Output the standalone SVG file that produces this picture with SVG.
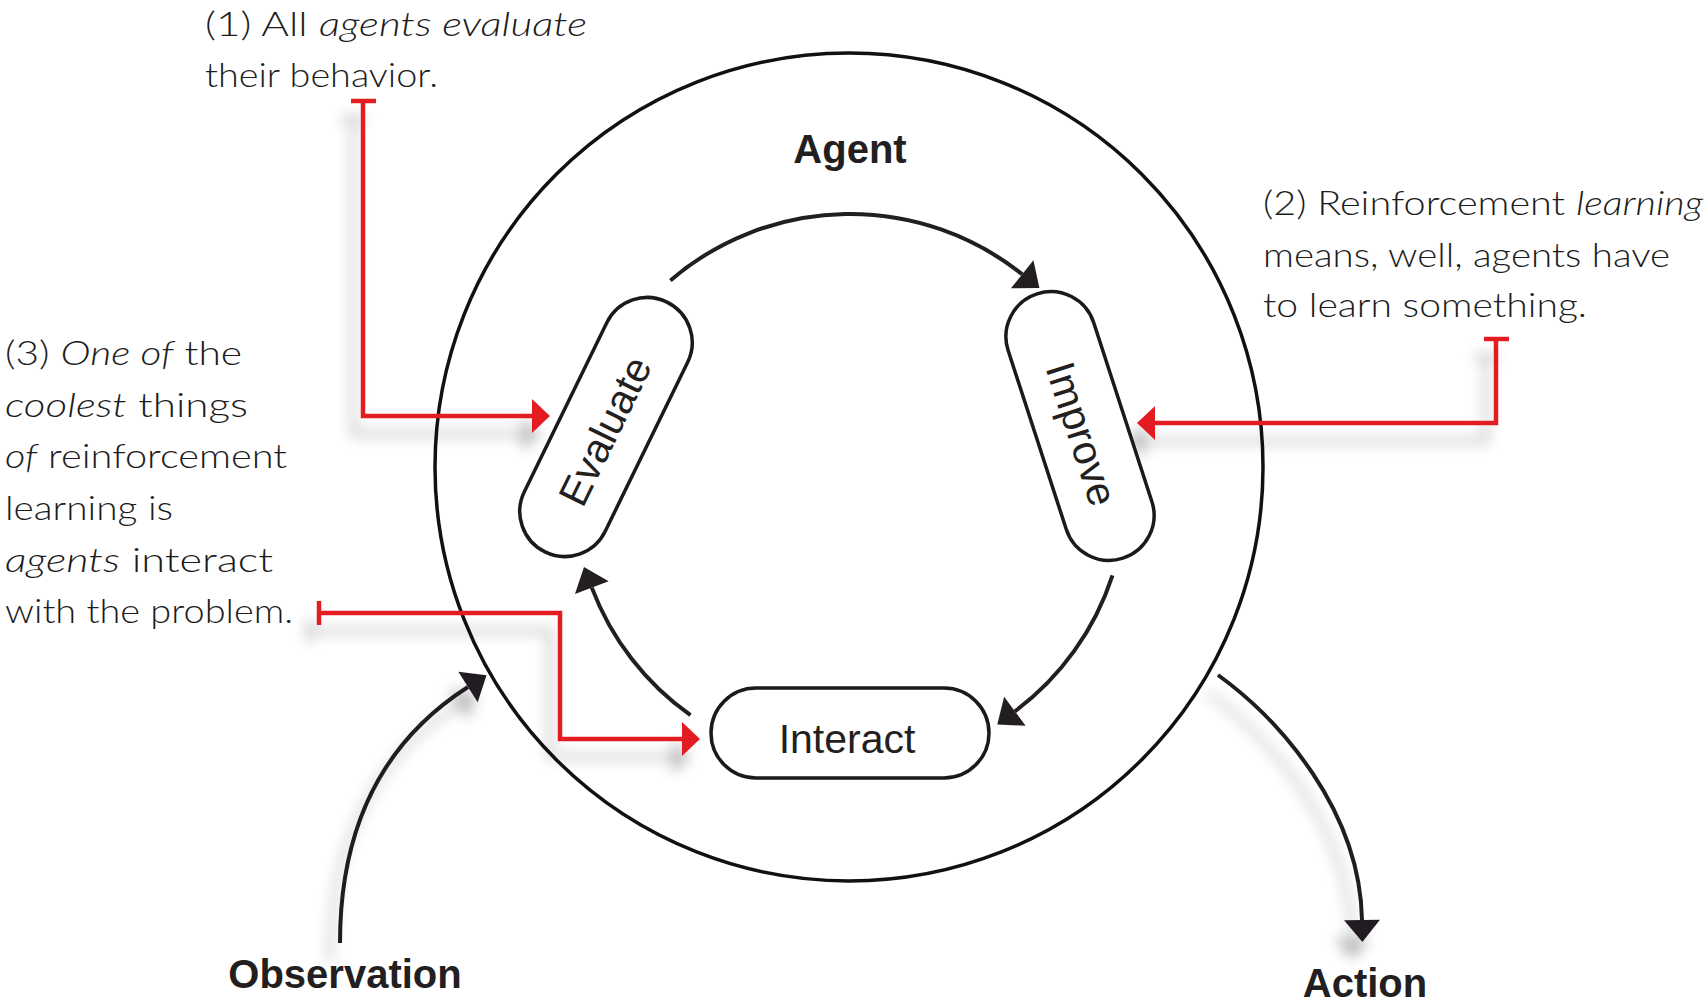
<svg xmlns="http://www.w3.org/2000/svg" width="1708" height="1004" viewBox="0 0 1708 1004">
  <style>
    .note { font-family: Lato, "Open Sans", "Liberation Sans", sans-serif; font-weight: 300; font-size: 34px; fill: #1c1c1c; }
    .note .em { font-style: italic; }
    .pill { fill: #ffffff; stroke: #1a1a1a; stroke-width: 3.5; }
    .pill-label { font-family: "Liberation Sans", Arial, sans-serif; font-size: 41px; fill: #231f20; text-anchor: middle; }
    .title { font-family: "Liberation Sans", Arial, sans-serif; font-weight: bold; font-size: 40px; fill: #231f20; text-anchor: middle; }
    .ring { fill: none; stroke: #111111; stroke-width: 3.5; }
    .flow { fill: none; stroke: #231f20; stroke-width: 4; }
    .callout { fill: none; stroke: #e31e24; stroke-width: 4.5; }
  </style>
  <defs>
    <filter id="soft-shadow" filterUnits="userSpaceOnUse" x="0" y="0" width="1708" height="1004">
      <feGaussianBlur in="SourceAlpha" stdDeviation="7"/>
      <feOffset dx="-10" dy="18" result="blur"/>
      <feComponentTransfer><feFuncA type="linear" slope="0.28"/></feComponentTransfer>
      <feMerge><feMergeNode/><feMergeNode in="SourceGraphic"/></feMerge>
    </filter>
    <marker id="head-black" markerUnits="userSpaceOnUse" markerWidth="24" markerHeight="38" refX="0" refY="18" orient="auto" overflow="visible">
      <path d="M0,0 L22,18 L0,36 Z" fill="#231f20"/>
    </marker>
    <marker id="head-red" markerUnits="userSpaceOnUse" markerWidth="20" markerHeight="36" refX="0" refY="17" orient="auto" overflow="visible">
      <path d="M0,0 L18,17 L0,34 Z" fill="#e31e24"/>
    </marker>
  </defs>

  <rect x="0" y="0" width="1708" height="1004" fill="#ffffff"/>

  <!-- agent boundary -->
  <g id="agent">
    <circle class="ring" cx="849" cy="467" r="414"/>
    <text class="title" x="850" y="163">Agent</text>
  </g>

  <!-- connectors -->
  <g id="connectors">
    <!-- internal cycle -->
    <path class="flow" d="M670.4,280.4 A276,276 0 0 1 1022.2,274.3" marker-end="url(#head-black)"/>
    <path class="flow" d="M1112.5,575.3 A276,276 0 0 1 1014.9,711.3" marker-end="url(#head-black)"/>
    <path class="flow" d="M690.5,715.2 A276,276 0 0 1 591.8,587.6" marker-end="url(#head-black)"/>
    <!-- environment in / out -->
    <g filter="url(#soft-shadow)">
      <path class="flow" d="M340,943 C340,825 385,740 468,687" marker-end="url(#head-black)"/>
      <path class="flow" d="M1218,675 C1280,720 1360,810 1362,920" marker-end="url(#head-black)"/>
    </g>
    <!-- annotation callouts -->
    <g filter="url(#soft-shadow)">
      <path class="callout" d="M351,101 H376 M363,101 V416 H532" marker-end="url(#head-red)"/>
      <path class="callout" d="M1484,339 H1509 M1496,339 V423 H1155" marker-end="url(#head-red)"/>
      <path class="callout" d="M319,601 V625 M319,613 H560 V739 H682" marker-end="url(#head-red)"/>
    </g>
  </g>

  <g id="evaluate" transform="translate(606,427) rotate(-64)">
    <rect class="pill" x="-139" y="-45" width="278" height="90" rx="45"/>
    <text class="pill-label" x="-4" y="15">Evaluate</text>
  </g>

  <g id="improve" transform="translate(1080,426) rotate(72)">
    <rect class="pill" x="-139" y="-45" width="278" height="90" rx="45"/>
    <text class="pill-label" x="8" y="15">Improve</text>
  </g>

  <g id="interact" transform="translate(850,733)">
    <rect class="pill" x="-139" y="-45" width="278" height="90" rx="45"/>
    <text class="pill-label" x="-3" y="20">Interact</text>
  </g>

  <g id="observation">
    <text class="title" x="345" y="988">Observation</text>
  </g>

  <g id="action">
    <text class="title" x="1365" y="997">Action</text>
  </g>

  <!-- side notes -->
  <g id="note-1">
    <text class="note" x="205" y="36" textLength="382" lengthAdjust="spacingAndGlyphs">(1) All <tspan class="em">agents evaluate</tspan></text>
    <text class="note" x="205" y="87" textLength="233" lengthAdjust="spacingAndGlyphs">their behavior.</text>
  </g>

  <g id="note-2">
    <text class="note" x="1263" y="215" textLength="440" lengthAdjust="spacingAndGlyphs">(2) Reinforcement <tspan class="em">learning</tspan></text>
    <text class="note" x="1263" y="267" textLength="407" lengthAdjust="spacingAndGlyphs">means, well, agents have</text>
    <text class="note" x="1263" y="317" textLength="324" lengthAdjust="spacingAndGlyphs">to learn something.</text>
  </g>

  <g id="note-3">
    <text class="note" x="5" y="365" textLength="237" lengthAdjust="spacingAndGlyphs">(3) <tspan class="em">One of</tspan> the</text>
    <text class="note" x="5" y="417" textLength="243" lengthAdjust="spacingAndGlyphs"><tspan class="em">coolest</tspan> things</text>
    <text class="note" x="5" y="468" textLength="282" lengthAdjust="spacingAndGlyphs"><tspan class="em">of</tspan> reinforcement</text>
    <text class="note" x="5" y="520" textLength="168" lengthAdjust="spacingAndGlyphs">learning is</text>
    <text class="note" x="5" y="572" textLength="268" lengthAdjust="spacingAndGlyphs"><tspan class="em">agents</tspan> interact</text>
    <text class="note" x="5" y="623" textLength="288" lengthAdjust="spacingAndGlyphs">with the problem.</text>
  </g>
</svg>
